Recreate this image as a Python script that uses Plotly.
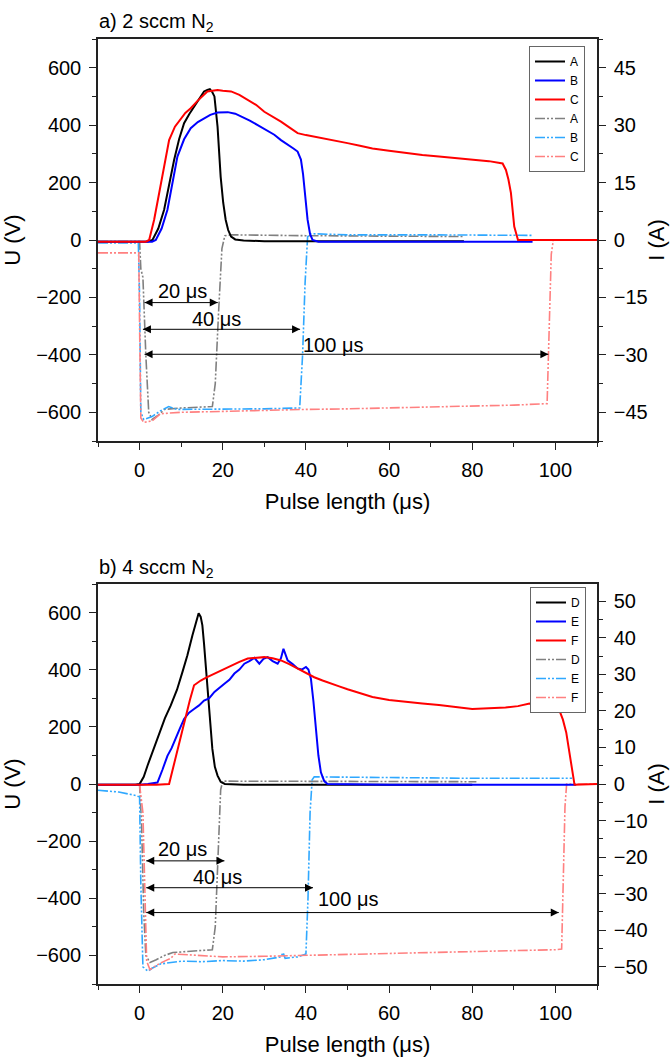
import plotly.graph_objects as go

FONT = "Liberation Sans, Arial, sans-serif"
W, H = 672, 1059

# ---------------- Panel a) 2 sccm N2 ----------------
# Current (solid, right axis, A)
a_A_x = [-10, 0, 2, 3.1, 4.5, 5.9, 7, 8.3, 9.5, 10.7, 12, 13.1, 14.3, 15.5, 16.3, 16.9, 17.5, 18, 18.75, 19.5, 20.1, 20.7, 21.3, 22, 23, 25, 30, 40, 50, 60, 70, 78]
a_A_i = [-0.45, -0.45, -0.4, 0, 3.0, 7.9, 14.3, 20.9, 26.3, 30.5, 33.0, 34.9, 36.8, 38.8, 39.2, 39.4, 38.6, 37.5, 29.6, 16.5, 9.8, 5.3, 2.6, 0.9, 0.15, -0.15, -0.3, -0.3, -0.3, -0.3, -0.3, -0.3]

a_B_x = [-10, 0, 3, 3.9, 5.3, 6.7, 8, 9.1, 10.7, 12.3, 14, 15.5, 17, 18.75, 21.2, 23, 24.4, 26.5, 28.4, 30.5, 32.4, 34, 35.6, 37, 38, 38.8, 39.3, 39.6, 40, 40.4, 41, 41.6, 43, 60, 80, 94.5]
a_B_i = [-0.45, -0.45, -0.45, 0, 3.0, 7.9, 15.0, 21.8, 26.3, 29.2, 30.8, 31.8, 32.7, 33.3, 33.4, 33.0, 32.3, 31.2, 30.0, 28.7, 27.5, 26.1, 24.8, 23.9, 23.1, 21.0, 17.3, 14.0, 9.0, 5.3, 1.5, 0, -0.45, -0.45, -0.45, -0.45]

a_C_x = [-10, 0, 1.5, 2.3, 3.5, 4.7, 6, 7.1, 8.5, 9.9, 11, 12.3, 14, 16.3, 18.75, 20, 22, 24, 26, 28, 30, 32, 34, 36, 38, 40, 42, 44, 46, 48, 50, 53, 56, 60, 64, 68, 72, 76, 80, 84, 87.3, 88.1, 88.7, 89.3, 90.1, 91, 95, 100, 110]
a_C_i = [-0.45, -0.45, -0.45, 0, 5.3, 12.2, 20.3, 26.1, 29.6, 31.8, 33.2, 34.4, 36.4, 38.8, 39.2, 39.0, 38.8, 37.9, 36.6, 35.3, 33.5, 32.3, 30.9, 29.4, 27.9, 27.4, 27.0, 26.6, 26.1, 25.7, 25.3, 24.6, 23.9, 23.3, 22.7, 22.2, 21.8, 21.4, 21.1, 20.6, 20.0, 18.3, 15.8, 12.3, 3.5, 0, 0, 0, 0]

# Voltage (dash-dot, left axis, V)
a_UA_x = [-10, 0, 0.3, 0.8, 1.5, 2.2, 3, 4.5, 6, 10, 17.5, 18.2, 19, 19.8, 20.5, 22, 40, 60, 78]
a_UA_u = [-5, -5, -100, -130, -400, -600, -625, -610, -590, -585, -580, -500, -250, -30, 15, 18, 15, 14, 12]

a_UB_x = [-10, -0.3, 0, 0.3, 1, 3, 5, 7, 9, 20, 30, 38.5, 39.2, 39.8, 40.4, 41, 50, 70, 94.5]
a_UB_u = [-10, -10, -200, -600, -625, -615, -595, -580, -590, -590, -588, -585, -400, -150, 10, 22, 18, 18, 16]

a_UC_x = [-10, -0.2, 0, 0.3, 1, 3, 5, 10, 20, 30, 40, 50, 60, 70, 80, 90, 98, 98.5, 99, 99.5, 110]
a_UC_u = [-45, -45, -300, -620, -635, -630, -605, -600, -597, -593, -590, -588, -585, -582, -578, -575, -570, -300, -50, 0, 0]

# ---------------- Panel b) 4 sccm N2 ----------------
b_D_x = [-10, -1, 0, 1, 1.9, 3.3, 4.7, 6.1, 7.5, 9, 10.3, 11.5, 12.7, 13.5, 14.2, 14.7, 15.1, 15.5, 15.9, 16.4, 16.8, 17.5, 18.1, 18.75, 19.5, 20.5, 25, 40, 60, 80]
b_D_i = [-0.23, -0.23, 0, 1.95, 5.0, 9.4, 14.1, 18.0, 21.5, 25.8, 30.6, 35.2, 40.6, 44.1, 46.7, 45.7, 43.4, 38.3, 32.4, 25.8, 20.5, 9.6, 4.7, 2.3, 0.6, 0, -0.23, -0.23, -0.23, -0.23]

b_E_x = [-10, 0, 2, 4.3, 5.5, 6.7, 7.7, 8.7, 9.7, 10.7, 11.9, 13.1, 14.3, 15.5, 16.7, 18, 19.2, 20.4, 21.6, 22.8, 24, 25.2, 26.4, 27.6, 28.8, 29.8, 30.8, 32, 33.2, 34, 34.6, 35.1, 35.6, 36.8, 38, 39, 40, 40.6, 41.2, 41.8, 42.4, 43, 43.6, 44.4, 45.2, 60, 80, 105]
b_E_i = [-0.23, -0.23, 0, 0.4, 3.9, 7.7, 9.8, 12.3, 15.2, 17.8, 19.5, 20.5, 21.5, 22.8, 23.4, 25.2, 26.2, 27.4, 28.5, 30.2, 31.3, 32.9, 33.6, 34.5, 32.9, 34.2, 34.7, 33.6, 32.9, 34.4, 37.0, 35.2, 33.8, 32.8, 31.6, 31.3, 32.0, 31.3, 28.8, 22.7, 14.1, 7.8, 3.2, 0.8, 0, -0.23, -0.23, -0.23]

b_F_x = [-10, 0, 4, 7.1, 8.1, 9.1, 10.1, 11.1, 12.1, 13.1, 14.7, 16, 18, 20, 22, 24, 26, 28, 30, 32, 34, 36, 38, 40, 42, 44, 46, 48, 50, 53, 56, 60, 64, 68, 72, 76, 80, 84, 88, 91, 93.75, 96, 99.4, 101, 101.8, 102.6, 103.2, 103.8, 104.6, 110]
b_F_i = [-0.23, -0.23, -0.23, 0, 4.7, 9.6, 14.1, 18.8, 23.0, 27.0, 28.3, 29.1, 30.2, 31.3, 32.4, 33.4, 34.3, 34.5, 34.7, 34.4, 33.8, 32.8, 31.6, 30.5, 29.2, 28.3, 27.4, 26.7, 25.9, 24.8, 23.8, 23.0, 22.4, 22.0, 21.6, 21.1, 20.5, 20.7, 20.9, 21.3, 22.0, 21.1, 20.5, 20.0, 17.6, 14.1, 9.4, 5.0, -0.23, 0]

b_UD_x = [-10, 0, 0.5, 1, 1.5, 2.5, 4, 6, 8, 12, 17.5, 18.2, 18.8, 19.5, 20, 40, 60, 81]
b_UD_u = [-3, -3, -150, -450, -600, -625, -615, -600, -590, -585, -580, -500, -250, -20, 10, 10, 10, 8]

b_UE_x = [-10, -5, -1, 0, 0.3, 0.8, 2, 3, 5, 7, 10, 15, 20, 25, 30, 34, 34.5, 35, 38, 40, 40.5, 41, 41.5, 42, 60, 80, 104]
b_UE_u = [-22, -28, -40, -45, -350, -640, -655, -645, -630, -625, -620, -622, -618, -620, -615, -605, -590, -610, -605, -595, -400, -100, 15, 25, 22, 20, 20]

b_UF_x = [-10, 0, 0.8, 1.3, 1.7, 2.5, 4, 6, 7.5, 8.5, 12, 20, 30, 40, 50, 60, 70, 80, 90, 100, 101.5, 101.9, 102.3, 102.7, 110]
b_UF_u = [-3, -3, -100, -400, -620, -650, -635, -620, -610, -595, -598, -605, -603, -600, -596, -592, -589, -586, -583, -580, -578, -350, -80, 0, 0]

# Pulse-length markers: (label, text x, text y, arrow start, arrow end, arrow y)
a_marks = [("20 μs", 10.3, -177, 1.2, 18.8, -218),
           ("40 μs", 18.5, -276, 0.8, 38.6, -311),
           ("100 μs", 46.5, -366, 1.2, 98.3, -398)]
b_marks = [("20 μs", 10.4, -228, 1.6, 20.4, -269),
           ("40 μs", 18.8, -324, 1.6, 41.7, -363),
           ("100 μs", 50.0, -404, 1.6, 100.8, -450)]

# ---------------- figure ----------------
BLACK, BLUE, RED = "#000000", "#0000FF", "#FF0000"
GRAY, LBLUE, LRED = "#808080", "#2FA8FF", "#FF8080"
DASH = "10px,2px,2px,2px,2px,2px"

fig = go.Figure()

def add(x, y, name, color, yaxis, xaxis, legend, dash=None, width=2):
    line = dict(color=color, width=width)
    if dash:
        line["dash"] = dash
    fig.add_trace(go.Scatter(x=x, y=y, name=name, mode="lines", xaxis=xaxis, yaxis=yaxis,
                             legend=legend, line=line, hoverinfo="skip"))

add(a_A_x, a_A_i, "A", BLACK, "y2", "x", "legend")
add(a_B_x, a_B_i, "B", BLUE, "y2", "x", "legend")
add(a_C_x, a_C_i, "C", RED, "y2", "x", "legend")
add(a_UA_x, a_UA_u, "A", GRAY, "y", "x", "legend", DASH, 1.6)
add(a_UB_x, a_UB_u, "B", LBLUE, "y", "x", "legend", DASH, 1.6)
add(a_UC_x, a_UC_u, "C", LRED, "y", "x", "legend", DASH, 1.6)

add(b_D_x, b_D_i, "D", BLACK, "y4", "x2", "legend2")
add(b_E_x, b_E_i, "E", BLUE, "y4", "x2", "legend2")
add(b_F_x, b_F_i, "F", RED, "y4", "x2", "legend2")
add(b_UD_x, b_UD_u, "D", GRAY, "y3", "x2", "legend2", DASH, 1.6)
add(b_UE_x, b_UE_u, "E", LBLUE, "y3", "x2", "legend2", DASH, 1.6)
add(b_UF_x, b_UF_u, "F", LRED, "y3", "x2", "legend2", DASH, 1.6)

# double-headed arrows for pulse lengths
for marks, xa, ya in ((a_marks, "x", "y"), (b_marks, "x2", "y3")):
    for label, tx, ty, x0, x1, ay in marks:
        fig.add_trace(go.Scatter(
            x=[x0, x1], y=[ay, ay], xaxis=xa, yaxis=ya, mode="lines+markers",
            line=dict(color="black", width=1),
            marker=dict(symbol=["arrow-left", "arrow-right"], size=8, color="black",
                        line=dict(width=0)),
            showlegend=False, hoverinfo="skip"))

AX = "#222222"
tickfont = dict(family=FONT, size=20, color="black")
titlefont = dict(family=FONT, size=22, color="black")

def xax(anchor):
    return dict(domain=[98 / W, 597 / W], anchor=anchor, range=[-10, 110], tick0=0, dtick=20,
                ticks="outside", ticklen=7, tickwidth=1.3, tickcolor=AX, showline=True,
                linecolor=AX, linewidth=1.5, mirror=True, showgrid=False, zeroline=False,
                tickfont=tickfont, ticklabelstandoff=3,
                title=dict(text="Pulse length (μs)", font=titlefont, standoff=14),
                minor=dict(ticks="outside", ticklen=4, dtick=10, tick0=0, tickcolor=AX,
                           tickwidth=1.3, showgrid=False))

def yax(domain, anchor, rng, dtick, title, standoff, side="left", overlay=None):
    d = dict(anchor=anchor, range=rng, tick0=0, dtick=dtick, side=side,
             ticks="outside", ticklen=7, tickwidth=1.3, tickcolor=AX, showline=True,
             linecolor=AX, linewidth=1.5, showgrid=False, zeroline=False,
             tickfont=tickfont, ticklabelstandoff=4,
             title=dict(text=title, font=titlefont, standoff=standoff),
             minor=dict(ticks="outside", ticklen=4, dtick=dtick / 2, tick0=0, tickcolor=AX,
                        tickwidth=1.3, showgrid=False))
    if overlay:
        d["overlaying"] = overlay
    else:
        d["domain"] = domain
    return d

top_dom = [1 - 441 / H, 1 - 39 / H]
bot_dom = [1 - 984 / H, 1 - 584 / H]

legfont = dict(family=FONT, size=12, color="black")
fig.update_layout(
    width=W, height=H, margin=dict(l=0, r=0, t=0, b=0),
    paper_bgcolor="white", plot_bgcolor="white",
    font=dict(family=FONT, color="black"),
    xaxis=xax("y"), xaxis2=xax("y3"),
    yaxis=yax(top_dom, "x", [-700, 700], 200, "U (V)", 9),
    yaxis2=yax(None, "x", [-52.5, 52.5], 15, "I (A)", 2, side="right", overlay="y"),
    yaxis3=yax(bot_dom, "x2", [-700, 700], 200, "U (V)", 9),
    yaxis4=yax(None, "x2", [-54.7, 54.7], 10, "I (A)", 2, side="right", overlay="y3"),
    legend=dict(x=529 / W, y=1 - 46 / H, xanchor="left", yanchor="top", bgcolor="white",
                bordercolor="#666", borderwidth=1, tracegroupgap=0, font=legfont),
    legend2=dict(x=530 / W, y=1 - 587 / H, xanchor="left", yanchor="top", bgcolor="white",
                 bordercolor="#666", borderwidth=1, tracegroupgap=0, font=legfont),
    showlegend=True,
)

ann = []
for marks, xr, yr in ((a_marks, "x", "y"), (b_marks, "x2", "y3")):
    for label, tx, ty, x0, x1, ay in marks:
        ann.append(dict(x=tx, y=ty, xref=xr, yref=yr, text=label, showarrow=False,
                        xanchor="center", yanchor="middle",
                        font=dict(family=FONT, size=20, color="black")))

ann.append(dict(x=97 / W, y=1 - 23 / H, xref="paper", yref="paper", xanchor="left",
                yanchor="middle", text="a) 2 sccm N<sub>2</sub>", showarrow=False,
                font=dict(family=FONT, size=20, color="black")))
ann.append(dict(x=97 / W, y=1 - 568 / H, xref="paper", yref="paper", xanchor="left",
                yanchor="middle", text="b) 4 sccm N<sub>2</sub>", showarrow=False,
                font=dict(family=FONT, size=20, color="black")))
fig.update_layout(annotations=ann)

fig.write_html("out.html")
